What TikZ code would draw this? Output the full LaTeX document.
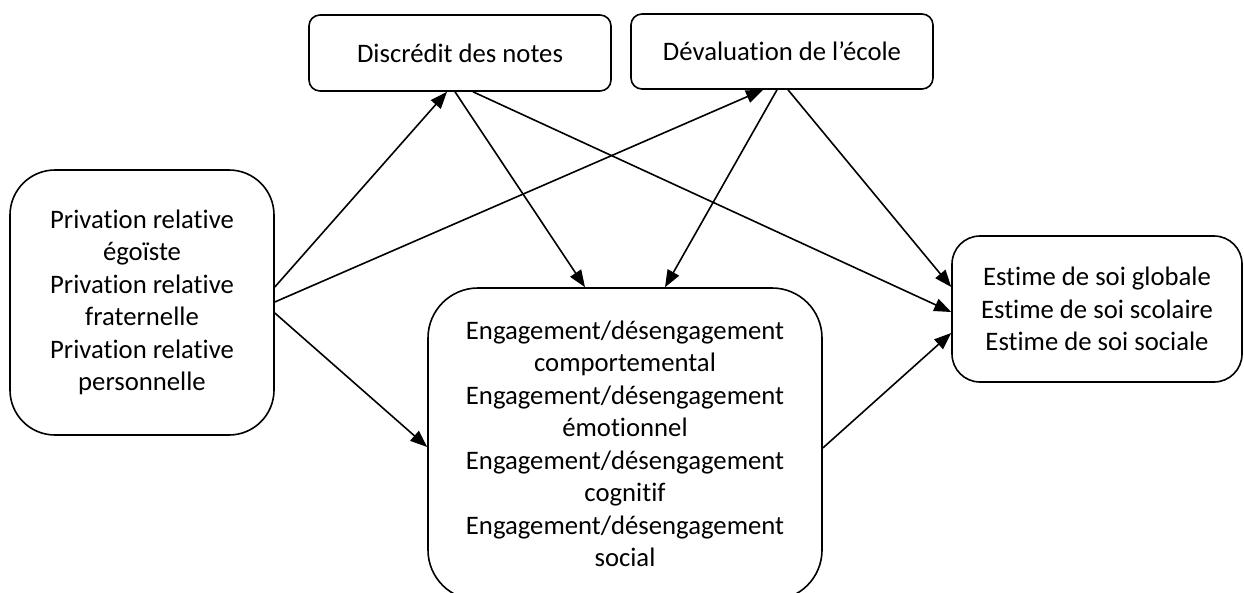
\documentclass[tikz,border=0pt]{standalone}
\usepackage{fontspec}
\setmainfont{Carlito}[Ligatures=NoCommon]
\usetikzlibrary{arrows.meta}
\begin{document}
\begin{tikzpicture}[x=1pt,y=1pt,
  box/.style={draw,line width=1.6pt,align=center,inner sep=0pt,
    font=\fontsize{26.7}{32.5}\selectfont},
  arr/.style={line width=1.6pt,-{Triangle[length=17pt,width=13pt]}}]
\useasboundingbox (0,0) rectangle (1244,-592);
\node[box,minimum width=264pt,minimum height=265pt,rounded corners=45pt] (L) at (142,-302.5)
  {Privation relative\\égoïste\\Privation relative\\fraternelle\\Privation relative\\personnelle};
\node[box,minimum width=302pt,minimum height=76pt,rounded corners=11pt] (D) at (460,-53)
  {Discrédit des notes};
\node[box,minimum width=302pt,minimum height=75pt,rounded corners=11pt] (V) at (782,-51.5)
  {Dévaluation de l’école};
\node[box,minimum width=394pt,minimum height=312pt,rounded corners=50pt] (C) at (625,-444)
  {Engagement/désengagement\\comportemental\\Engagement/désengagement\\émotionnel\\Engagement/désengagement\\cognitif\\Engagement/désengagement\\social};
\node[box,minimum width=290pt,minimum height=146pt,rounded corners=28pt] (R) at (1097,-309)
  {Estime de soi globale\\Estime de soi scolaire\\Estime de soi sociale};
\draw[arr] ([yshift=15.5pt]L.east) -- ([xshift=-13pt]D.south);
\draw[arr] ([yshift=0.5pt]L.east) -- ([xshift=-19pt]V.south);
\draw[arr] ([yshift=-10.5pt]L.east) -- ([yshift=-3pt]C.west);
\draw[arr] ([xshift=-5pt]D.south) -- ([xshift=-40pt]C.north);
\draw[arr] ([xshift=13pt]D.south) -- ([yshift=-3pt]R.west);
\draw[arr] ([xshift=-5pt]V.south) -- ([xshift=40pt]C.north);
\draw[arr] ([xshift=6pt]V.south) -- ([yshift=22pt]R.west);
\draw[arr] ([yshift=-4pt]C.east) -- ([yshift=-24pt]R.west);
\end{tikzpicture}
\end{document}
